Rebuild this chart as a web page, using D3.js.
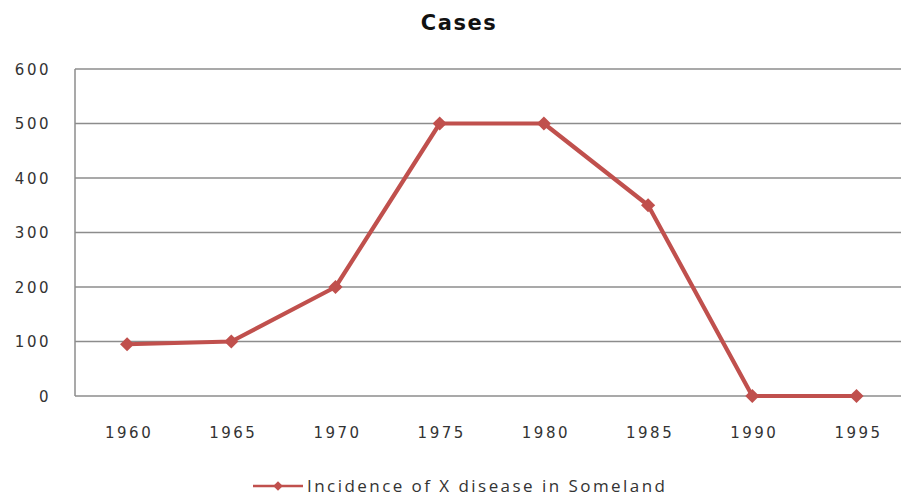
<!DOCTYPE html>
<html><head><meta charset="utf-8">
<script src="https://cdn.jsdelivr.net/npm/d3@7"></script>
<style>body{margin:0;background:#fff;}svg{display:block;}</style>
</head><body>
<script>
const years = ["1960","1965","1970","1975","1980","1985","1990","1995"];
const cases = [95, 100, 200, 500, 500, 350, 0, 0];
const yTicks = [0, 100, 200, 300, 400, 500, 600];
const title = "Cases";
const seriesName = "Incidence of X disease in Someland";

const W = 901, H = 497;
const svg = d3.select("body").append("svg").attr("width", W).attr("height", H);
const mLeft = 75, mTop = 69, mBottom = 396, step = 104.2;
const x = d3.scalePoint().domain(years).range([mLeft + step/2, mLeft + step*7.5]);
const y = d3.scaleLinear().domain([0, 600]).range([mBottom, mTop]);

// gridlines
svg.append("g").selectAll("line").data(yTicks).join("line")
  .attr("x1", mLeft).attr("x2", W).attr("y1", d => y(d)).attr("y2", d => y(d))
  .attr("stroke", "#8c8c8c").attr("stroke-width", 1.3);
// y axis line
svg.append("line").attr("x1", mLeft).attr("x2", mLeft).attr("y1", mTop).attr("y2", mBottom)
  .attr("stroke", "#8c8c8c").attr("stroke-width", 1.5);

const tickFont = "Verdana, 'DejaVu Sans', sans-serif";
// y axis labels
const yAxis = d3.axisLeft(y).tickValues(yTicks).tickSize(0).tickPadding(0);
const gy = svg.append("g").attr("transform", `translate(${mLeft-24},0)`).call(yAxis);
gy.select(".domain").remove();
gy.selectAll("text").attr("font-family", tickFont)
  .attr("font-size", 15).attr("fill", "#333").attr("letter-spacing", 2.5).attr("dy", "0.35em");

// x axis labels
const xAxis = d3.axisBottom(x).tickSize(0).tickPadding(0);
const gx = svg.append("g").attr("transform", `translate(0,${mBottom + 37})`).call(xAxis);
gx.select(".domain").remove();
gx.selectAll("text").attr("font-family", tickFont)
  .attr("font-size", 15).attr("fill", "#333").attr("letter-spacing", 2.5).attr("dy", "0.35em")
  .attr("dx", "0.1em");

// title
svg.append("text").attr("x", 459).attr("y", 30).attr("text-anchor", "middle")
  .attr("font-family", tickFont).attr("font-weight", "bold")
  .attr("font-size", 21).attr("letter-spacing", 1.5).attr("fill", "#111").text(title);

const red = "#c0504d";
const line = d3.line().x((d, i) => x(years[i])).y(d => y(d));
svg.append("path").datum(cases).attr("d", line).attr("fill", "none")
  .attr("stroke", red).attr("stroke-width", 4.2).attr("stroke-linejoin", "round");
const diamond = d3.symbol().type(d3.symbolSquare).size(100);
svg.append("g").selectAll("path").data(cases).join("path")
  .attr("transform", (d, i) => `translate(${x(years[i])},${y(d)}) rotate(45)`)
  .attr("d", diamond).attr("fill", red);

// legend
const ly = 486;
svg.append("line").attr("x1", 253).attr("x2", 303).attr("y1", ly).attr("y2", ly)
  .attr("stroke", red).attr("stroke-width", 2.5);
svg.append("path").attr("transform", `translate(278,${ly}) rotate(45)`)
  .attr("d", d3.symbol().type(d3.symbolSquare).size(45)).attr("fill", red);
svg.append("text").attr("x", 307).attr("y", ly).attr("dy", "0.35em")
  .attr("font-family", "'Open Sans', 'Noto Sans', sans-serif").attr("font-size", 17)
  .attr("textLength", 358).attr("lengthAdjust", "spacing")
  .attr("fill", "#333").text(seriesName);
</script>
</body></html>
